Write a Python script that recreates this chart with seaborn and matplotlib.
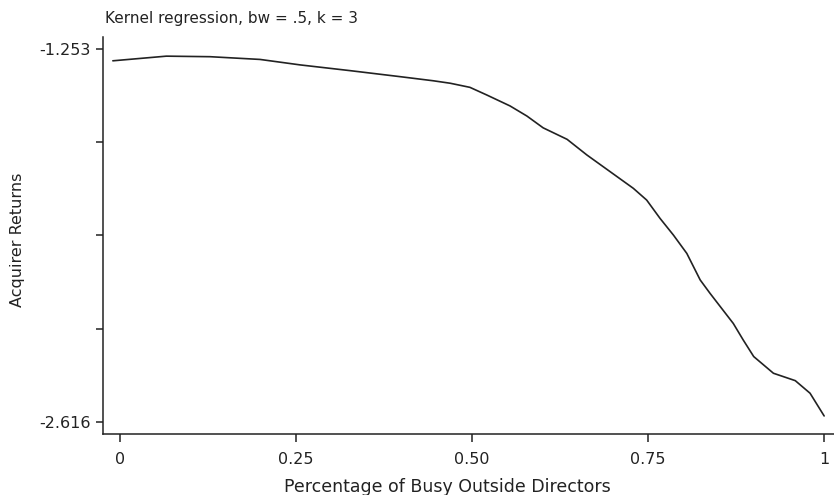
import matplotlib
matplotlib.use("Agg")
import matplotlib.pyplot as plt
import seaborn as sns
import pandas as pd

# Data
busy_pct = [-0.010, 0.066, 0.128, 0.199, 0.256, 0.327, 0.398, 0.445, 0.469, 0.497,
            0.521, 0.554, 0.578, 0.601, 0.635, 0.663, 0.696, 0.729, 0.748, 0.767,
            0.786, 0.805, 0.824, 0.838, 0.871, 0.885, 0.900, 0.928, 0.959, 0.980, 1.000]
acq_returns = [-1.296, -1.279, -1.281, -1.291, -1.311, -1.332, -1.354, -1.369, -1.378, -1.393,
               -1.421, -1.461, -1.498, -1.541, -1.583, -1.640, -1.701, -1.762, -1.805, -1.872,
               -1.933, -2.000, -2.097, -2.146, -2.256, -2.316, -2.377, -2.438, -2.465, -2.511,
               -2.594]
x_ticks = [0, 0.25, 0.50, 0.75, 1]
x_tick_labels = ["0", "0.25", "0.50", "0.75", "1"]
y_ticks = [-1.253, -1.59375, -1.9345, -2.27525, -2.616]
y_tick_labels = ["-1.253", "", "", "", "-2.616"]

df = pd.DataFrame({"x": busy_pct, "y": acq_returns})

sns.set_style("ticks")
plt.rcParams["font.family"] = ["DejaVu Sans"]

fig = plt.figure(figsize=(8.34, 4.95), dpi=100)
ax = fig.add_axes([103 / 834, 61 / 495, 731 / 834, 397 / 495])

sns.lineplot(data=df, x="x", y="y", ax=ax, color="#222222", linewidth=1.2)

ax.set_xlim(-0.024, 1.014)
ax.set_ylim(-2.660, -1.209)
ax.set_xticks(x_ticks)
ax.set_xticklabels(x_tick_labels)
ax.set_yticks(y_ticks)
ax.set_yticklabels(y_tick_labels)

for s in ["top", "right"]:
    ax.spines[s].set_visible(False)
for s in ["left", "bottom"]:
    ax.spines[s].set_linewidth(1.1)
    ax.spines[s].set_color("#222222")

ax.tick_params(axis="x", length=6, width=1.1, pad=7, labelsize=11.5, colors="#222222")
ax.tick_params(axis="y", length=5, width=1.1, pad=4, labelsize=11.5, colors="#222222")

ax.set_xlabel("Percentage of Busy Outside Directors", fontsize=12.5, color="#222222")
ax.set_ylabel("Acquirer Returns", fontsize=11.5, color="#222222")
ax.xaxis.set_label_coords((447 - 103) / 731, -(487 - 434) / 397)
ax.yaxis.set_label_coords(-(103 - 18) / 731, (434 - 240) / 397)
ax.xaxis.label.set_va("center")
ax.yaxis.label.set_va("center")

fig.text(105 / 834, 1 - 18 / 495, "Kernel regression, bw = .5, k = 3",
         fontsize=11, ha="left", va="center", color="#222222")

fig.savefig("out.png", dpi=100)
